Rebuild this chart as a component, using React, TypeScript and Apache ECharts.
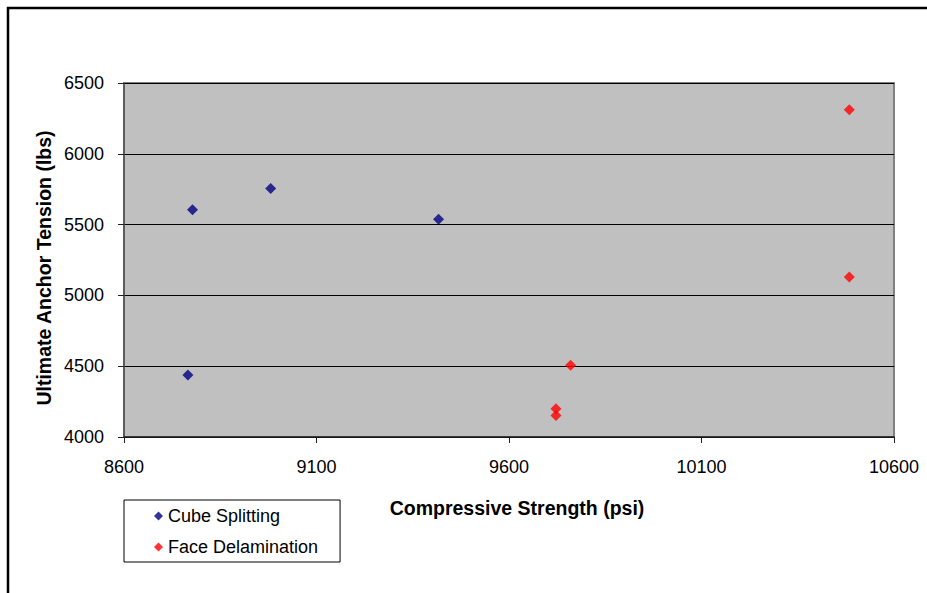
import React, { useEffect, useRef } from "react";
import * as echarts from "echarts";

const X_TICKS = [8600, 9100, 9600, 10100, 10600];
const Y_TICKS = [4000, 4500, 5000, 5500, 6000, 6500];

const CUBE_X = [8778, 8981, 9417, 8766];
const CUBE_Y = [5604, 5755, 5537, 4438];

const FACE_X = [10484, 10484, 9760, 9722, 9722];
const FACE_Y = [6311, 5130, 4506, 4199, 4151];

const SERIES_NAMES = ["Cube Splitting", "Face Delamination"];
const X_TITLE = "Compressive Strength (psi)";
const Y_TITLE = "Ultimate Anchor Tension (lbs)";

const FONT = "'Liberation Sans', Arial, sans-serif";

export default function App() {
  const ref = useRef<HTMLDivElement>(null);
  useEffect(() => {
    if (!ref.current) return;
    const chart = echarts.init(ref.current, undefined, { renderer: "svg" });
    const zip = (xs: number[], ys: number[]) => xs.map((x, i) => [x, ys[i]]);
    const plain = (v: number) => String(v);
    chart.setOption({
      animation: false,
      backgroundColor: "#ffffff",
      textStyle: { fontFamily: FONT },
      grid: {
        left: 124,
        top: 83,
        width: 770,
        height: 354,
        show: true,
        backgroundColor: "#C0C0C0",
        borderColor: "#808080",
        borderWidth: 2,
      },
      xAxis: {
        type: "value",
        min: X_TICKS[0],
        max: X_TICKS[X_TICKS.length - 1],
        axisLine: { show: true, lineStyle: { color: "#202020", width: 1.5 } },
        axisTick: {
          show: true,
          inside: false,
          length: 6,
          customValues: X_TICKS,
          lineStyle: { color: "#202020" },
        },
        axisLabel: {
          customValues: X_TICKS,
          formatter: plain,
          fontSize: 18,
          color: "#000",
          margin: 21,
          fontFamily: FONT,
        },
        splitLine: { show: false },
      },
      yAxis: {
        type: "value",
        min: Y_TICKS[0],
        max: Y_TICKS[Y_TICKS.length - 1],
        interval: 500,
        axisLine: { show: true, lineStyle: { color: "#505050", width: 1.5 } },
        axisTick: { show: true, inside: false, length: 6, lineStyle: { color: "#202020" } },
        axisLabel: { formatter: plain, fontSize: 18, color: "#000", margin: 20, fontFamily: FONT },
        splitLine: { show: true, lineStyle: { color: "#000", width: 1 } },
      },
      legend: {
        orient: "vertical",
        left: 124,
        top: 500,
        icon: "diamond",
        itemWidth: 9,
        itemHeight: 9,
        itemGap: 13,
        padding: [7, 22, 6, 30],
        borderColor: "#000",
        borderWidth: 1,
        backgroundColor: "#fff",
        textStyle: { fontSize: 18, color: "#000", fontFamily: FONT },
        data: SERIES_NAMES,
      },
      graphic: [
        { type: "line", shape: { x1: 7, y1: 8, x2: 927, y2: 8 }, style: { stroke: "#000", lineWidth: 2.5 } },
        { type: "line", shape: { x1: 8, y1: 7, x2: 8, y2: 593 }, style: { stroke: "#000", lineWidth: 2.5 } },
        {
          type: "text",
          x: 517,
          y: 508,
          style: {
            text: X_TITLE,
            font: `bold 19.5px ${FONT}`,
            fill: "#000",
            align: "center",
            verticalAlign: "middle",
          },
        },
        {
          type: "text",
          x: 44,
          y: 268,
          rotation: Math.PI / 2,
          style: {
            text: Y_TITLE,
            font: `bold 19.5px ${FONT}`,
            fill: "#000",
            align: "center",
            verticalAlign: "middle",
          },
        },
      ],
      series: [
        {
          name: SERIES_NAMES[0],
          type: "scatter",
          symbol: "diamond",
          symbolSize: 11,
          itemStyle: { color: "#000080" },
          data: zip(CUBE_X, CUBE_Y),
        },
        {
          name: SERIES_NAMES[1],
          type: "scatter",
          symbol: "diamond",
          symbolSize: 11,
          itemStyle: { color: "#FF0000" },
          data: zip(FACE_X, FACE_Y),
        },
      ],
    });
    return () => chart.dispose();
  }, []);
  return (
    <div
      ref={ref}
      style={{ position: "fixed", left: 0, top: 0, width: 927, height: 593, background: "#fff" }}
    />
  );
}
